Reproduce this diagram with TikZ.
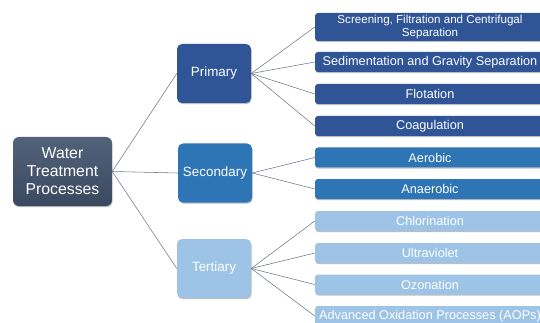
\documentclass[tikz,border=0pt]{standalone}
\usepackage{fontspec}
\setmainfont{Liberation Sans}
\usetikzlibrary{shadows}
\definecolor{rootc}{HTML}{44546A}
\definecolor{roott}{HTML}{52627A}
\definecolor{rootb}{HTML}{3A495F}
\definecolor{primc}{HTML}{2F5597}
\definecolor{secc}{HTML}{2E75B6}
\definecolor{terc}{HTML}{9DC3E6}
\definecolor{linec}{HTML}{6E7888}
\tikzset{
  boxshadow/.style={drop shadow={shadow xshift=0.6pt, shadow yshift=-1.2pt, opacity=0.25, fill=black}},
  rootbox/.style={rounded corners=6pt, top color=roott, bottom color=rootb, text=white,
    minimum width=99pt, minimum height=69pt, inner sep=0pt, align=center,
    font=\fontsize{15.8}{18}\selectfont, boxshadow},
  midbox/.style={rounded corners=5pt, fill=#1, text=white,
    minimum width=74pt, minimum height=59pt, inner sep=0pt, align=center,
    font=\fontsize{13.4}{15}\selectfont, boxshadow},
  leafbox/.style={rounded corners=3pt, fill=#1, text=white,
    minimum width=230pt, minimum height=20pt, inner sep=0pt, align=center,
    font=\fontsize{12.7}{14}\selectfont, boxshadow},
  conn/.style={draw=linec, line width=0.55pt}
}
\begin{document}
\begin{tikzpicture}[x=1pt,y=-1pt]
\useasboundingbox (0,0) rectangle (540,323);
\clip (0,0) rectangle (540,323);
\node[rootbox] (root) at (62.5,171.5) {Water\\Treatment\\Processes};
\node[midbox=primc] (prim) at (214,73.5) {Primary};
\node[midbox=secc] (sec) at (215,173) {Secondary};
\node[midbox=terc] (ter) at (214,268.5) {Tertiary};

\node[leafbox=primc, minimum height=28pt, font=\fontsize{11.6}{12.2}\selectfont] (l1) at (430,27) {Screening, Filtration and Centrifugal\\Separation};
\node[leafbox=primc] (l2) at (430,62) {Sedimentation and Gravity Separation};
\node[leafbox=primc] (l3) at (430,94) {Flotation};
\node[leafbox=primc] (l4) at (430,126) {Coagulation};
\node[leafbox=secc] (l5) at (430,157.5) {Aerobic};
\node[leafbox=secc] (l6) at (430,189) {Anaerobic};
\node[leafbox=terc] (l7) at (430,221) {Chlorination};
\node[leafbox=terc] (l8) at (430,253) {Ultraviolet};
\node[leafbox=terc] (l9) at (430,284.5) {Ozonation};
\node[leafbox=terc] (l10) at (430,316) {Advanced Oxidation Processes (AOPs)};

\draw[conn] (root.east) -- (prim.west);
\draw[conn] (root.east) -- (sec.west);
\draw[conn] (root.east) -- (ter.west);
\foreach \l in {l1,l2,l3,l4} \draw[conn] (prim.east) -- (\l.west);
\foreach \l in {l5,l6} \draw[conn] (sec.east) -- (\l.west);
\foreach \l in {l7,l8,l9,l10} \draw[conn] (ter.east) -- (\l.west);
\end{tikzpicture}
\end{document}
